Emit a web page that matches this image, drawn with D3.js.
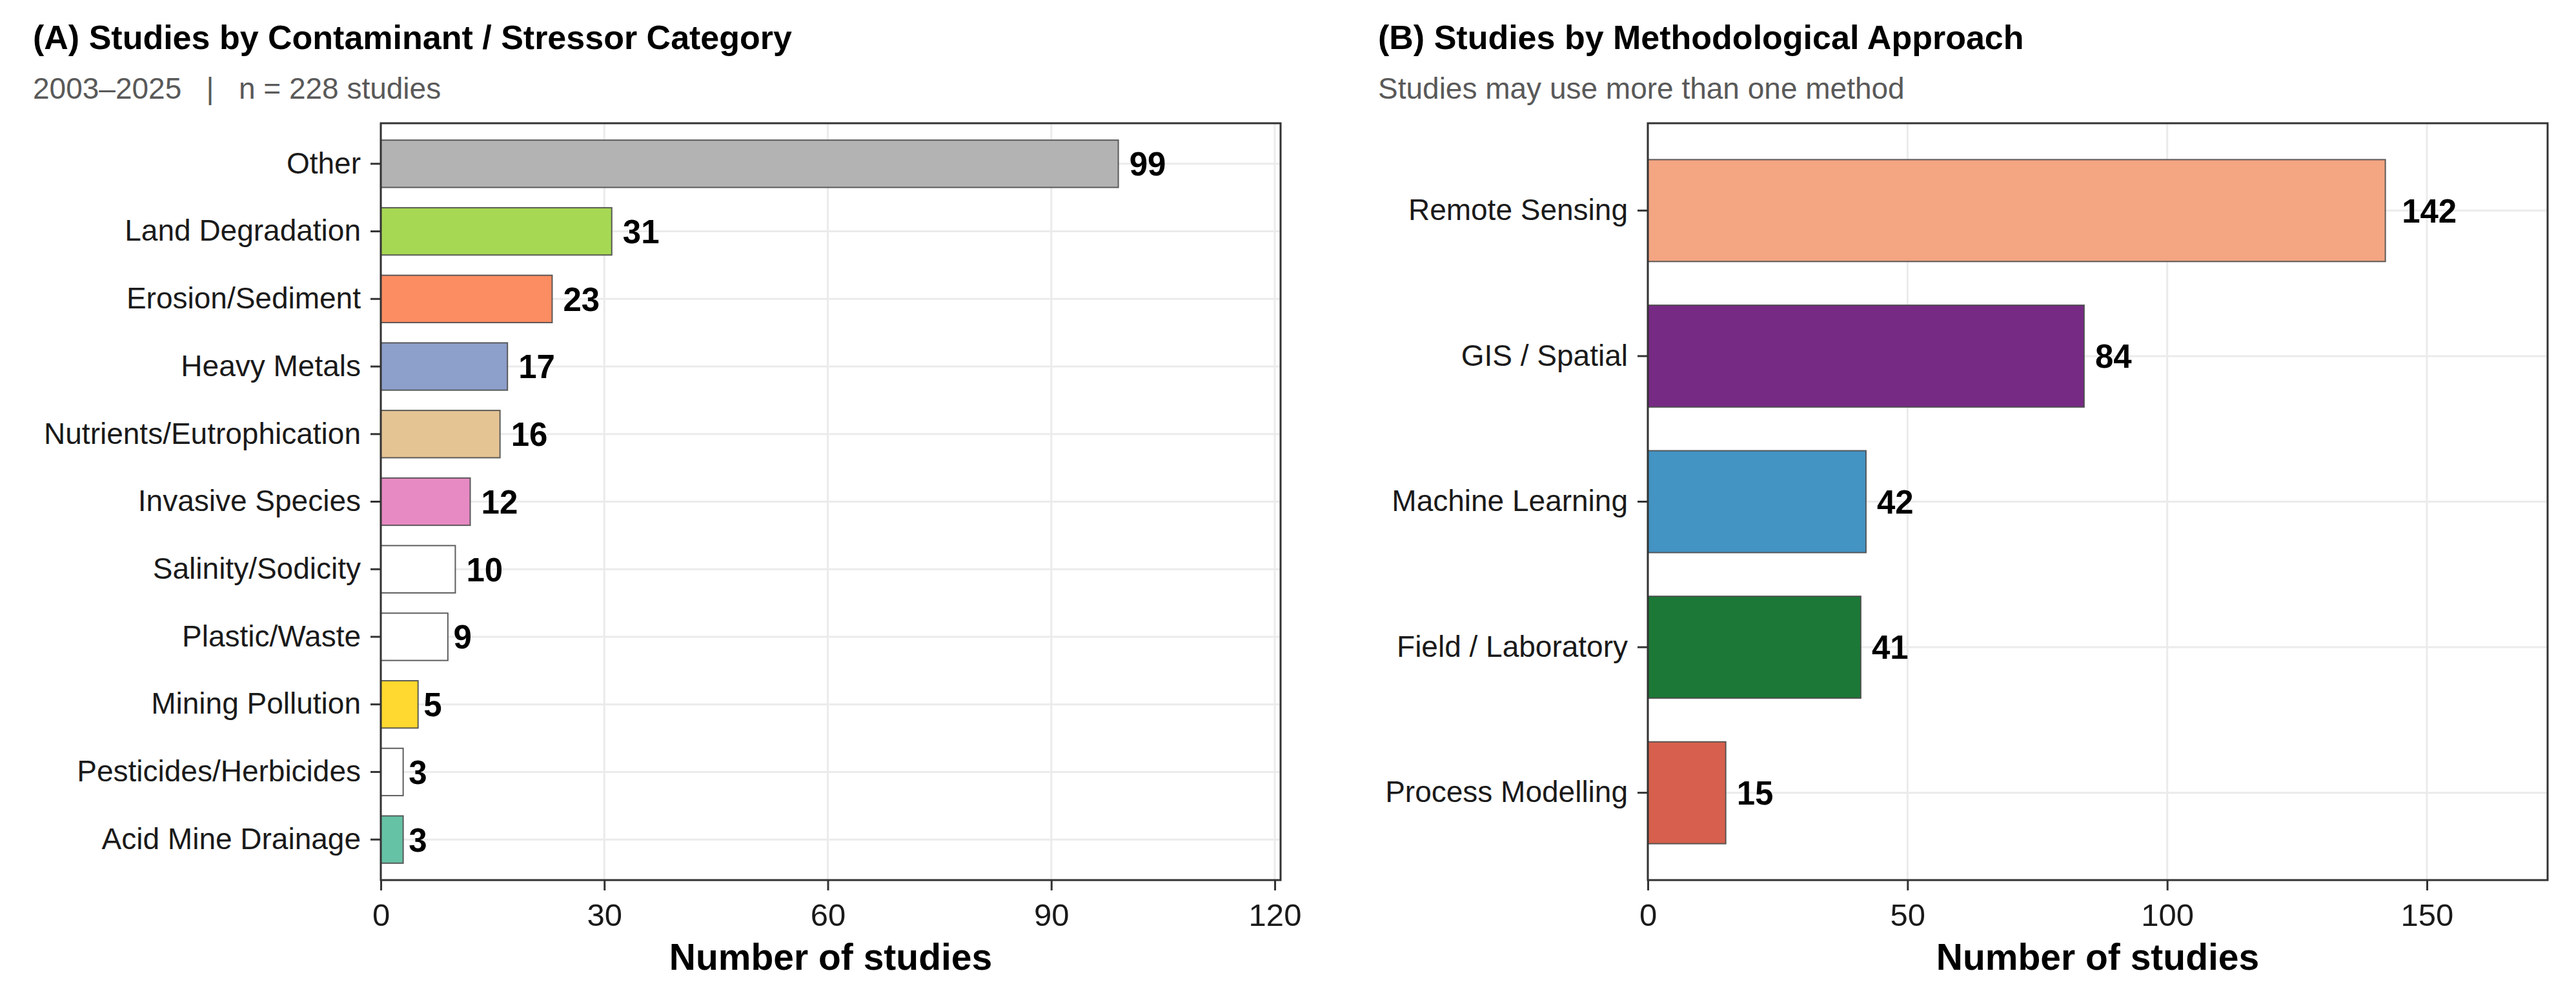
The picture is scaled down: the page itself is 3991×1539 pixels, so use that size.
<!DOCTYPE html>
<html>
<head>
<meta charset="utf-8">
<script src="https://cdn.jsdelivr.net/npm/d3@7"></script>
<style>
  body { margin: 0; background: #fff; }
  svg { display: block; font-family: "Liberation Sans", Arial, sans-serif; }
</style>
</head>
<body>
<div id="chart"></div>
<script>
const width = 3991;
const height = 1539;

// panel A data (top to bottom)
const stressorCategories = [
  "Other", "Land Degradation", "Erosion/Sediment", "Heavy Metals",
  "Nutrients/Eutrophication", "Invasive Species", "Salinity/Sodicity",
  "Plastic/Waste", "Mining Pollution", "Pesticides/Herbicides", "Acid Mine Drainage"
];
const stressorCounts = [99, 31, 23, 17, 16, 12, 10, 9, 5, 3, 3];
const stressorColors = [
  "#b3b3b3", "#a6d854", "#fc8d62", "#8da0cb", "#e5c494", "#e78ac3",
  "#ffffff", "#ffffff", "#ffd92f", "#ffffff", "#66c2a5"
];
const stressorTicks = [0, 30, 60, 90, 120];

// panel B data
const methodCategories = [
  "Remote Sensing", "GIS / Spatial", "Machine Learning", "Field / Laboratory", "Process Modelling"
];
const methodCounts = [142, 84, 42, 41, 15];
const methodColors = ["#f4a582", "#762a83", "#4393c3", "#1b7837", "#d6604d"];
const methodTicks = [0, 50, 100, 150];

const panelTop = 191;
const panelBottom = 1364;

function drawPanel(svg, opts) {
  const g = svg.append("g");

  const x = d3.scaleLinear()
    .domain([0, d3.max(opts.values) * 1.22])
    .range([opts.left, opts.right]);

  // ggplot style discrete scale: 0.6 expansion each side, bar width 0.7
  const y = d3.scaleBand()
    .domain(opts.categories)
    .range([panelTop, panelBottom])
    .paddingInner(0.3)
    .paddingOuter(0.25);

  const rows = opts.categories.map((c, i) => ({ cat: c, value: opts.values[i], color: opts.colors[i] }));

  // titles
  g.append("text")
    .attr("x", opts.titleX)
    .attr("y", 76)
    .attr("font-size", 52)
    .attr("font-weight", "bold")
    .attr("fill", "#000")
    .text(opts.title);

  g.append("text")
    .attr("x", opts.titleX)
    .attr("y", 153)
    .attr("font-size", 46)
    .attr("fill", "#595959")
    .attr("xml:space", "preserve")
    .text(opts.subtitle);

  // grid
  g.append("g")
    .selectAll("line")
    .data(opts.ticks)
    .join("line")
    .attr("x1", (d) => x(d))
    .attr("x2", (d) => x(d))
    .attr("y1", panelTop)
    .attr("y2", panelBottom)
    .attr("stroke", "#ebebeb")
    .attr("stroke-width", 3);

  g.append("g")
    .selectAll("line")
    .data(opts.categories)
    .join("line")
    .attr("x1", opts.left)
    .attr("x2", opts.right)
    .attr("y1", (d) => y(d) + y.bandwidth() / 2)
    .attr("y2", (d) => y(d) + y.bandwidth() / 2)
    .attr("stroke", "#ebebeb")
    .attr("stroke-width", 3);

  // bars
  g.append("g")
    .selectAll("rect")
    .data(rows)
    .join("rect")
    .attr("x", x(0))
    .attr("y", (d) => y(d.cat))
    .attr("width", (d) => x(d.value) - x(0))
    .attr("height", y.bandwidth())
    .attr("fill", (d) => d.color)
    .attr("stroke", "#4d4d4d")
    .attr("stroke-opacity", 0.9)
    .attr("stroke-width", 2);

  // value labels, hjust = -0.3
  g.append("g")
    .selectAll("text")
    .data(rows)
    .join("text")
    .attr("y", (d) => y(d.cat) + y.bandwidth() / 2)
    .attr("dy", "0.36em")
    .attr("font-size", 51)
    .attr("font-weight", "bold")
    .attr("fill", "#000")
    .text((d) => d.value)
    .attr("x", function (d) { return x(d.value) + 0.3 * this.getComputedTextLength(); });

  // axes
  const xAxis = g.append("g")
    .attr("transform", `translate(0, ${panelBottom})`)
    .call(d3.axisBottom(x).tickValues(opts.ticks).tickSize(16).tickPadding(20));
  xAxis.select(".domain").remove();
  xAxis.selectAll("line").attr("stroke", "#333").attr("stroke-width", 3);
  xAxis.selectAll("text")
    .attr("font-size", 49)
    .attr("fill", "#1a1a1a")
    .attr("font-family", "Liberation Sans, Arial, sans-serif");

  const yAxis = g.append("g")
    .attr("transform", `translate(${opts.left}, 0)`)
    .call(d3.axisLeft(y).tickSize(16).tickPadding(15));
  yAxis.select(".domain").remove();
  yAxis.selectAll("line").attr("stroke", "#333").attr("stroke-width", 3);
  yAxis.selectAll("text")
    .attr("font-size", 46)
    .attr("fill", "#1a1a1a")
    .attr("font-family", "Liberation Sans, Arial, sans-serif");

  // panel border
  g.append("rect")
    .attr("x", opts.left)
    .attr("y", panelTop)
    .attr("width", opts.right - opts.left)
    .attr("height", panelBottom - panelTop)
    .attr("fill", "none")
    .attr("stroke", "#333")
    .attr("stroke-width", 3);

  // x axis title
  g.append("text")
    .attr("x", (opts.left + opts.right) / 2)
    .attr("y", 1503)
    .attr("text-anchor", "middle")
    .attr("font-size", 57)
    .attr("font-weight", "bold")
    .attr("fill", "#000")
    .text("Number of studies");
}

function main() {
  const svg = d3.select("#chart")
    .append("svg")
    .attr("width", width)
    .attr("height", height)
    .attr("viewBox", [0, 0, width, height]);

  svg.append("rect").attr("width", width).attr("height", height).attr("fill", "#fff");

  drawPanel(svg, {
    categories: stressorCategories,
    values: stressorCounts,
    colors: stressorColors,
    ticks: stressorTicks,
    left: 590,
    right: 1984,
    titleX: 51,
    title: "(A) Studies by Contaminant / Stressor Category",
    subtitle: "2003\u20132025   |   n = 228 studies"
  });

  drawPanel(svg, {
    categories: methodCategories,
    values: methodCounts,
    colors: methodColors,
    ticks: methodTicks,
    left: 2553,
    right: 3947,
    titleX: 2135,
    title: "(B) Studies by Methodological Approach",
    subtitle: "Studies may use more than one method"
  });
}

main();
</script>
</body>
</html>
